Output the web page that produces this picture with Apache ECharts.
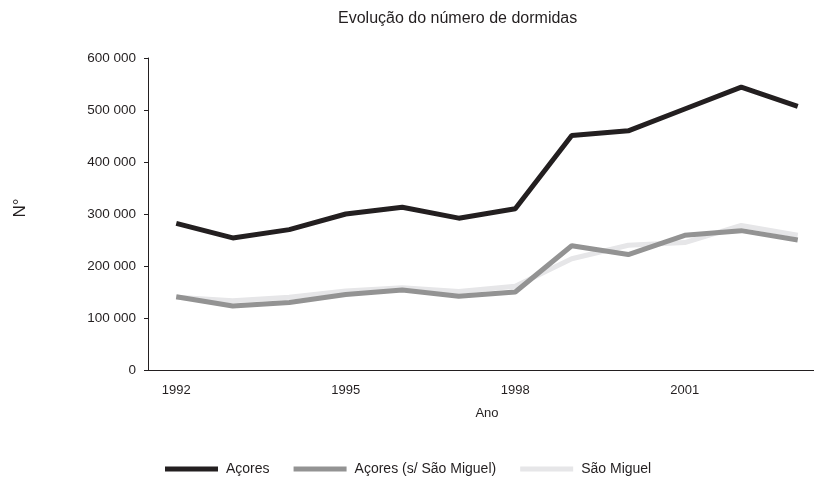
<!DOCTYPE html>
<html>
<head>
<meta charset="utf-8">
<script src="https://cdn.jsdelivr.net/npm/echarts@6/dist/echarts.min.js"></script>
<style>html,body{margin:0;padding:0;background:#fff;overflow:hidden;width:814px;height:481px}#c{width:826px;height:481px}</style>
</head>
<body>
<div id="c"></div>
<script>
const years = ['1992','1993','1994','1995','1996','1997','1998','1999','2000','2001','2002','2003'];
const acores = [282000,254000,270000,300000,313000,292000,310000,451000,460000,502000,544000,507000];
const acoresSemSM = [141000,123000,130000,145000,154000,142000,150000,239000,222000,259000,268000,250000];
const saoMiguel = [140000,133000,140000,152000,158000,151000,161000,214000,240000,245000,278000,259000];
const yTicks = [0,100000,200000,300000,400000,500000,600000];

const font = 'Liberation Sans, Arial, sans-serif';
const txt = '#231f20';
const chart = echarts.init(document.getElementById('c'));
function fmt(v){ return v === 0 ? '0' : String(v).replace(/\B(?=(\d{3})+(?!\d))/g, ' '); }
const lineStyle = (c) => ({ width: 5, color: c });
chart.setOption({
  animation: false,
  textStyle: { fontFamily: font, color: txt },
  title: {
    text: 'Evolução do número de dormidas', left: 333, top: 6,
    textStyle: { fontSize: 16, fontWeight: 'normal', color: txt, fontFamily: font }
  },
  legend: {
    bottom: 0, left: 160, itemWidth: 53, itemHeight: 5, itemGap: 24, icon: 'rect',
    textStyle: { fontSize: 14, color: txt, fontFamily: font, padding: [0, 0, 0, 3] },
    data: ['Açores', 'Açores (s/ São Miguel)', 'São Miguel']
  },
  grid: { left: 148, right: 0, top: 58, bottom: 111, containLabel: false },
  xAxis: {
    type: 'category', data: years, boundaryGap: true,
    name: 'Ano', nameLocation: 'middle', nameGap: 37,
    nameTextStyle: { fontSize: 13, color: txt, fontFamily: font },
    axisLine: { lineStyle: { color: txt, width: 1 } },
    axisTick: { interval: 2, length: 4, lineStyle: { color: txt } },
    axisLabel: { interval: 2, fontSize: 13, color: txt, margin: 14, fontFamily: font },
    splitLine: { show: false }
  },
  yAxis: {
    type: 'value', min: 0, max: 600000, interval: 100000,
    name: 'N°', nameLocation: 'middle', nameGap: 119, nameRotate: 90,
    nameTextStyle: { fontSize: 17, color: txt, fontFamily: font, padding: [0, 0, 0, 12] },
    axisLine: { show: true, lineStyle: { color: txt, width: 1 } },
    axisTick: { show: true, length: 4, lineStyle: { color: txt } },
    axisLabel: { fontSize: 13.5, color: txt, margin: 12, fontFamily: font, formatter: fmt },
    splitLine: { show: false }
  },
  series: [
    { name: 'Açores', type: 'line', data: acores, symbol: 'none', color: '#231f20', lineStyle: lineStyle('#231f20'), z: 3 },
    { name: 'Açores (s/ São Miguel)', type: 'line', data: acoresSemSM, symbol: 'none', color: '#939393', lineStyle: lineStyle('#939393'), z: 2 },
    { name: 'São Miguel', type: 'line', data: saoMiguel, symbol: 'none', color: '#e6e6e8', lineStyle: lineStyle('#e6e6e8'), z: 1 }
  ]
});
</script>
</body>
</html>
